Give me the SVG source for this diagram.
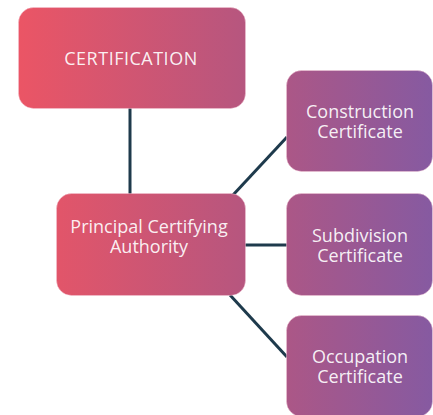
<svg xmlns="http://www.w3.org/2000/svg" width="433" height="415" viewBox="0 0 433 415">
  <defs>
    <!-- one horizontal blend shared by all boxes, coral on the left to violet on the right -->
    <linearGradient id="boxFill" gradientUnits="userSpaceOnUse" x1="18" y1="0" x2="432" y2="0">
      <stop offset="0" stop-color="#EB5565"/>
      <stop offset="0.55" stop-color="#B6567F"/>
      <stop offset="1" stop-color="#865AA1"/>
    </linearGradient>
  </defs>
  <style>
    .box { fill: url(#boxFill); stroke: #F3C9D6; stroke-opacity: 0.45; stroke-width: 1; }
    .label { font-family: "Open Sans", Lato, "Liberation Sans", sans-serif; font-size: 18px; fill: #FFFFFF; fill-opacity: 0.92; text-anchor: middle; }
    .caps { letter-spacing: 0.5px; }
    .link { stroke: #1E3A4C; stroke-width: 3; fill: none; stroke-linecap: butt; }
  </style>
  <rect width="433" height="415" fill="#FFFFFF"/>

  <g id="connectors">
    <line class="link" x1="130" y1="108" x2="130" y2="194"/>
    <line class="link" x1="233" y1="195" x2="287" y2="137"/>
    <line class="link" x1="244" y1="245" x2="287" y2="245"/>
    <line class="link" x1="230" y1="295" x2="287" y2="357"/>
  </g>

  <g id="certification">
    <rect class="box" x="18.5" y="7.5" width="227" height="101" rx="15"/>
    <text class="label caps" x="131" y="65">CERTIFICATION</text>
  </g>

  <g id="principal-certifying-authority">
    <rect class="box" x="56.5" y="193.5" width="189" height="102" rx="15"/>
    <text class="label" x="149" y="233">Principal Certifying</text>
    <text class="label" x="149" y="253">Authority</text>
  </g>

  <g id="construction-certificate">
    <rect class="box" x="286.5" y="70.5" width="146" height="101" rx="15"/>
    <text class="label" x="360" y="118">Construction</text>
    <text class="label" x="360" y="138">Certificate</text>
  </g>

  <g id="subdivision-certificate">
    <rect class="box" x="286.5" y="193.5" width="146" height="102" rx="15"/>
    <text class="label" x="360" y="242">Subdivision</text>
    <text class="label" x="360" y="262">Certificate</text>
  </g>

  <g id="occupation-certificate">
    <rect class="box" x="286.5" y="315.5" width="146" height="101" rx="15"/>
    <text class="label" x="360" y="363">Occupation</text>
    <text class="label" x="360" y="383">Certificate</text>
  </g>
</svg>
